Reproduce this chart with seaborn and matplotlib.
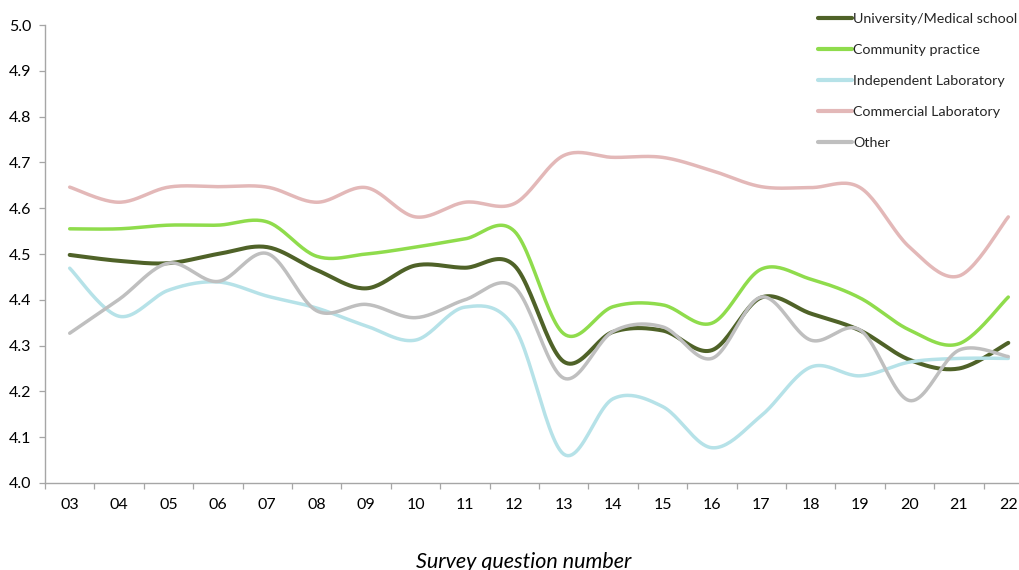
import numpy as np
import pandas as pd
import matplotlib
matplotlib.use("Agg")
import matplotlib.pyplot as plt
import seaborn as sns

# Survey questions (x-axis categories)
questions = ["03", "04", "05", "06", "07", "08", "09", "10", "11", "12",
             "13", "14", "15", "16", "17", "18", "19", "20", "21", "22"]

# Mean score per practice setting
university = [4.498, 4.485, 4.480, 4.500, 4.515, 4.465, 4.425, 4.475, 4.470, 4.475,
              4.265, 4.330, 4.333, 4.290, 4.405, 4.370, 4.333, 4.269, 4.250, 4.306]
community = [4.555, 4.555, 4.563, 4.563, 4.570, 4.495, 4.500, 4.515, 4.533, 4.550,
             4.326, 4.385, 4.389, 4.349, 4.467, 4.445, 4.404, 4.334, 4.304, 4.406]
independent = [4.469, 4.364, 4.421, 4.439, 4.408, 4.382, 4.343, 4.312, 4.384, 4.340,
               4.063, 4.184, 4.167, 4.077, 4.147, 4.253, 4.234, 4.264, 4.272, 4.272]
commercial = [4.646, 4.613, 4.646, 4.647, 4.646, 4.613, 4.645, 4.581, 4.613, 4.610,
              4.715, 4.711, 4.711, 4.682, 4.647, 4.645, 4.645, 4.515, 4.452, 4.581]
other = [4.327, 4.401, 4.480, 4.440, 4.501, 4.376, 4.390, 4.361, 4.400, 4.428,
         4.229, 4.331, 4.341, 4.272, 4.406, 4.312, 4.334, 4.180, 4.290, 4.276]

series_names = ["University/Medical school", "Community practice",
                "Independent Laboratory", "Commercial Laboratory", "Other"]
series_values = [university, community, independent, commercial, other]
colors = ["#4f6228", "#8fdc4c", "#b6e2e8", "#e3b8b8", "#bfbfbf"]
widths = [2.9, 2.5, 2.5, 2.5, 2.5]


def smooth(xs, ys, steps=24):
    """Bezier smoothing through every point (spreadsheet-style smoothed line)."""
    xs = np.asarray(xs, float)
    ys = np.asarray(ys, float)
    n = len(xs)
    px = np.concatenate([[xs[0]], xs, [xs[-1]]])
    py = np.concatenate([[ys[0]], ys, [ys[-1]]])
    out_x, out_y = [], []
    t = np.linspace(0, 1, steps, endpoint=False)
    for i in range(n - 1):
        p0x, p0y = px[i + 1], py[i + 1]
        p3x, p3y = px[i + 2], py[i + 2]
        c1x = p0x + (px[i + 2] - px[i]) / 6
        c1y = p0y + (py[i + 2] - py[i]) / 6
        c2x = p3x - (px[i + 3] - px[i + 1]) / 6
        c2y = p3y - (py[i + 3] - py[i + 1]) / 6
        a = (1 - t) ** 3
        b = 3 * (1 - t) ** 2 * t
        c = 3 * (1 - t) * t ** 2
        d = t ** 3
        out_x.append(a * p0x + b * c1x + c * c2x + d * p3x)
        out_y.append(a * p0y + b * c1y + c * c2y + d * p3y)
    out_x.append([xs[-1]])
    out_y.append([ys[-1]])
    return np.concatenate(out_x), np.concatenate(out_y)


sns.set_theme(style="white")
plt.rcParams["font.family"] = ["Lato", "DejaVu Sans"]

fig = plt.figure(figsize=(10.19, 5.70), dpi=100)
ax = fig.add_axes([45 / 1019, 87 / 570, 988 / 1019, 458 / 570])

pos = np.arange(len(questions))
for name, vals, col, lw in zip(series_names, series_values, colors, widths):
    sx, sy = smooth(pos, vals)
    df = pd.DataFrame({"q": sx, "score": sy})
    sns.lineplot(data=df, x="q", y="score", ax=ax, color=col, linewidth=lw,
                 label=name, sort=False, estimator=None)

ax.set_xlim(-0.5, len(questions) - 0.5)
ax.set_ylim(4.0, 5.0)
ax.set_yticks(np.arange(4.0, 5.01, 0.1))
ax.set_yticklabels([f"{v:.1f}" for v in np.arange(4.0, 5.01, 0.1)])
ax.set_xticks(pos)
ax.set_xticklabels(questions)
ax.set_xticks(np.arange(-0.5, len(questions)), minor=True)
ax.set_xlabel("")
ax.set_ylabel("")

for side in ["top", "right"]:
    ax.spines[side].set_visible(False)
for side in ["left", "bottom"]:
    ax.spines[side].set_color("#a6a6a6")
    ax.spines[side].set_linewidth(1.0)

ax.tick_params(axis="y", which="major", direction="out", length=4, width=0.9,
               color="#a6a6a6", labelsize=11.5, labelcolor="#000000", pad=6, left=True)
ax.tick_params(axis="x", which="major", length=0, labelsize=11.5,
               labelcolor="#000000", pad=11)
ax.tick_params(axis="x", which="minor", direction="out", length=4, width=0.9,
               color="#a6a6a6", bottom=True)

leg = ax.legend(loc="upper left", bbox_to_anchor=(818 / 1019, 1 - 13 / 570),
                bbox_transform=fig.transFigure, frameon=False, fontsize=10.3,
                handlelength=2.35, handletextpad=0.12, labelspacing=1.33,
                borderpad=0, borderaxespad=0)
for line in leg.get_lines():
    line.set_linewidth(3)

fig.text(524 / 1019, 1 - 568 / 570, "Survey question number", ha="center",
         va="baseline", fontsize=15.5, style="italic", color="#000000")

fig.savefig("out.png", dpi=100)
